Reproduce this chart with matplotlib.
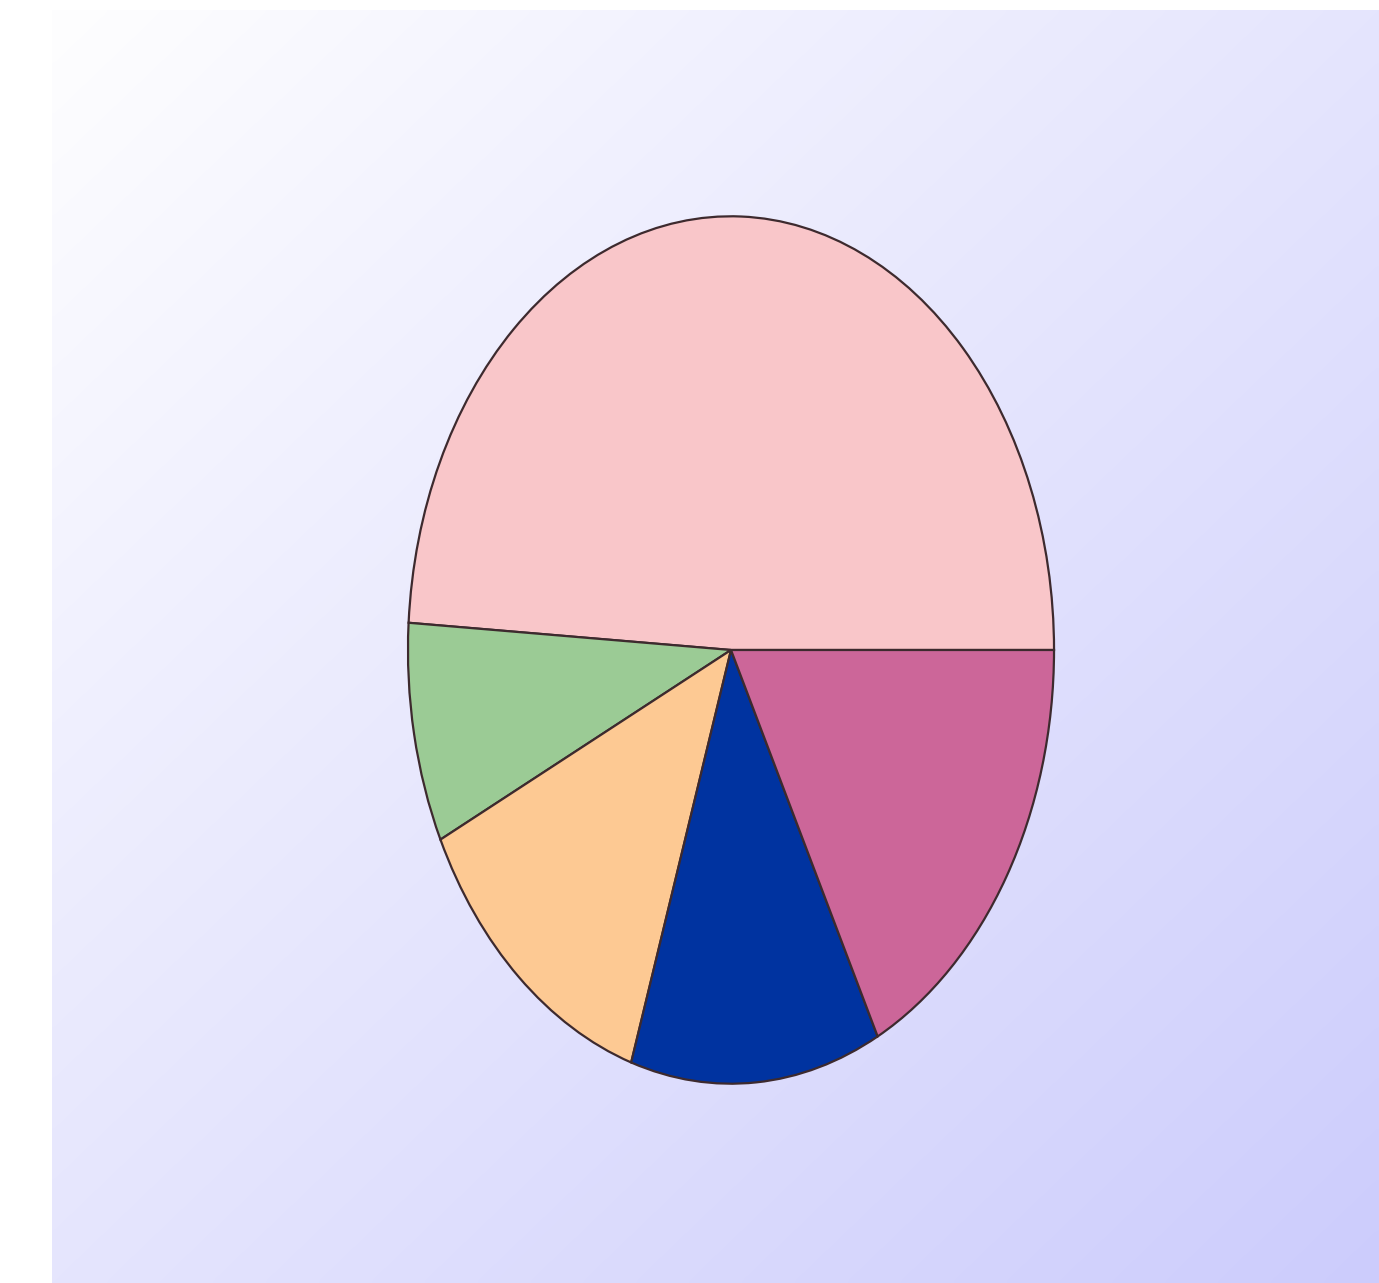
import matplotlib
matplotlib.use("Agg")
import matplotlib.pyplot as plt
import numpy as np

# slice shares, counter-clockwise from 3 o'clock
labels = ["A", "B", "C", "D", "E"]
sizes = [49.0, 8.2, 12.8, 12.5, 17.5]
colors = ["#F9C6C9", "#9BCB95", "#FDC993", "#0033A0", "#CC6699"]

W, H = 1379, 1283
fig = plt.figure(figsize=(W / 100, H / 100), dpi=100)
fig.patch.set_facecolor("white")

# gradient background panel
bg = fig.add_axes([52 / W, 0, (W - 52) / W, (H - 10) / H])
bg.set_axis_off()
gx, gy = np.meshgrid(np.linspace(0, 1, 300), np.linspace(0, 1, 300))
t = (gx + gy) / 2
c0 = np.array([254, 254, 255]) / 255
c1 = np.array([204, 204, 252]) / 255
img = c0[None, None, :] * (1 - t[..., None]) + c1[None, None, :] * t[..., None]
bg.imshow(img, extent=[0, 1, 0, 1], aspect="auto", origin="upper", interpolation="bicubic")

# pie, stretched into an ellipse
left, right, top, bottom = 407, 1055, 215, 1085
ax = fig.add_axes([left / W, (H - bottom) / H, (right - left) / W, (bottom - top) / H])
ax.patch.set_alpha(0)
ax.pie(sizes, colors=colors, startangle=0, counterclock=True,
       wedgeprops=dict(edgecolor="#3d2a2e", linewidth=1.6))
ax.set_xlim(-1.003, 1.003)
ax.set_ylim(-1.003, 1.003)
ax.set_aspect("auto")
ax.set_axis_off()

fig.savefig("out.png", dpi=100)
